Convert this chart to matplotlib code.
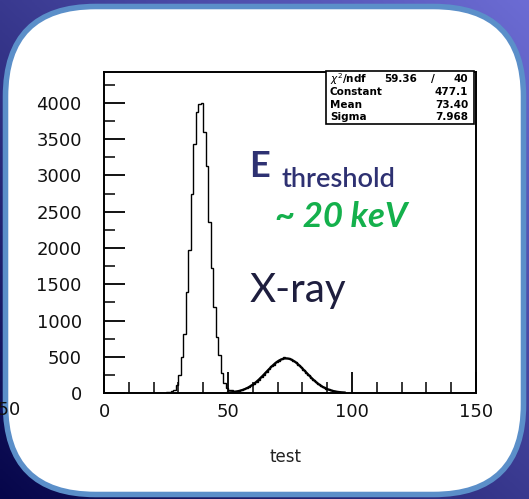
import numpy as np
import matplotlib
matplotlib.use("Agg")
import matplotlib.pyplot as plt
from matplotlib.patches import FancyBboxPatch, Rectangle
from matplotlib.ticker import MultipleLocator

# histogram contents, one entry per unit bin starting at bin 20
first_bin = 20
counts = [0, 2, 3, 4, 5, 10, 15, 25, 40, 110,
          250, 500, 815, 1400, 1970, 2750, 3440, 3880, 3985, 4000,
          3600, 3135, 2360, 1720, 1190, 776, 524, 275, 142, 70,
          42, 35, 30, 28, 32, 40, 50, 66, 82, 104,
          128, 158, 186, 222, 255, 295, 325, 368, 392, 428,
          445, 468, 490, 482, 480, 466, 440, 422, 386, 358,
          318, 282, 250, 212, 182, 148, 124, 98, 80, 61,
          49, 37, 27, 20, 15, 11, 8, 6, 4, 3,
          2, 1, 1, 0, 0]
n_bins = 150

# gaussian fit from the stats box
chi2, ndf = 59.36, 40
fit_const, fit_mean, fit_sigma = 477.1, 73.40, 7.968
fit_range = (50, 97)

x_ticks = [0, 50, 100, 150]
y_ticks = list(range(0, 4001, 500))

W, H = 529, 499


def fx(x):
    return x / W


def fy(y):
    return 1 - y / H


fig = plt.figure(figsize=(W / 100, H / 100), dpi=100)

# slide background
bg = fig.add_axes([0, 0, 1, 1], zorder=-1)
bg.set_xlim(0, W)
bg.set_ylim(H, 0)
bg.axis("off")
gx, gy = np.meshgrid(np.linspace(0, 1, 200), np.linspace(0, 1, 200))
t = (gx + (1 - gy)) / 2
dark = np.array([0x06, 0x06, 0x4a]) / 255
light = np.array([0x6c, 0x6c, 0xd4]) / 255
img = dark + (light - dark) * t[..., None]
bg.imshow(img, extent=[0, W, H, 0], aspect="auto", zorder=0)
card = FancyBboxPatch((5.5, 6.5), 518, 488, boxstyle="round,pad=0,rounding_size=90",
                      facecolor="white", edgecolor="none", zorder=1)
bg.add_patch(card)
bg.add_patch(FancyBboxPatch((5.5, 6.5), 518, 488, boxstyle="round,pad=0,rounding_size=90",
                            facecolor="none", edgecolor="#5b8fc9", linewidth=4, zorder=3))
bg.text(20, 410, "-50", ha="right", va="center", fontsize=13, color="#111111", zorder=4)

# histogram pad
ax = fig.add_axes([fx(104), fy(393), (476 - 104) / W, (393 - 72) / H])
ax.patch.set_alpha(0)
full = np.zeros(n_bins)
full[first_bin:first_bin + len(counts)] = counts
edges = np.arange(n_bins + 1)
ax.stairs(full, edges, color="black", linewidth=1.0)

xf = np.linspace(fit_range[0], fit_range[1], 300)
yf = fit_const * np.exp(-0.5 * ((xf - fit_mean) / fit_sigma) ** 2)
ax.plot(xf, yf, color="black", linewidth=1.6)

ax.set_xlim(0, 150)
ax.set_ylim(0, 4000 * 321 / 290)
ax.set_xticks(x_ticks)
ax.set_yticks(y_ticks)
ax.xaxis.set_minor_locator(MultipleLocator(10))
ax.yaxis.set_minor_locator(MultipleLocator(250))
ax.tick_params(which="major", direction="in", length=15, width=1.3, labelsize=13,
               colors="black", labelcolor="#111111")
ax.tick_params(which="minor", direction="in", length=8, width=1.1)
ax.tick_params(axis="y", pad=16)
ax.tick_params(axis="x", pad=7)
for s in ax.spines.values():
    s.set_linewidth(1.4)

fig.text(fx(285), fy(457), "test", ha="center", va="center", fontsize=12, color="#222222")

# stats box
fig.add_artist(Rectangle((fx(326), fy(124)), 148 / W, 53 / H, transform=fig.transFigure,
                         facecolor="white", edgecolor="black", linewidth=1.2, zorder=5))
rows = [
    ("$\\chi^2$/ndf", None),
    ("Constant", f"{fit_const:.1f}"),
    ("Mean", f"{fit_mean:.2f}"),
    ("Sigma", f"{fit_sigma:.3f}"),
]
row_y = [79, 92, 104.5, 117]
for (name, val), yy in zip(rows, row_y):
    fig.text(fx(330), fy(yy), name, ha="left", va="center", fontsize=7.5, fontweight="bold", zorder=6)
    if val is not None:
        fig.text(fx(468), fy(yy), val, ha="right", va="center", fontsize=7.5, fontweight="bold", zorder=6)
fig.text(fx(417), fy(row_y[0]), f"{chi2:.2f}", ha="right", va="center", fontsize=7.5, fontweight="bold", zorder=6)
fig.text(fx(433), fy(row_y[0]), "/", ha="center", va="center", fontsize=7.5, fontweight="bold", zorder=6)
fig.text(fx(468), fy(row_y[0]), f"{ndf}", ha="right", va="center", fontsize=7.5, fontweight="bold", zorder=6)

# slide annotations
navy = "#2e3172"
fig.text(fx(249), fy(177), "E", ha="left", va="baseline", fontsize=26, fontweight="bold",
         color=navy, family="Lato")
fig.text(fx(281), fy(187), "threshold", ha="left", va="baseline", fontsize=19.5,
         color=navy, family="Lato", fontweight="semibold")
fig.text(fx(275), fy(227), "~ 20 keV", ha="left", va="baseline", fontsize=25,
         fontweight="bold", fontstyle="italic", color="#14b04c", family="Lato")
fig.text(fx(250), fy(302), "X-ray", ha="left", va="baseline", fontsize=29,
         color="#1e1e3e", family="Lato")

fig.savefig("out.png", dpi=100)
